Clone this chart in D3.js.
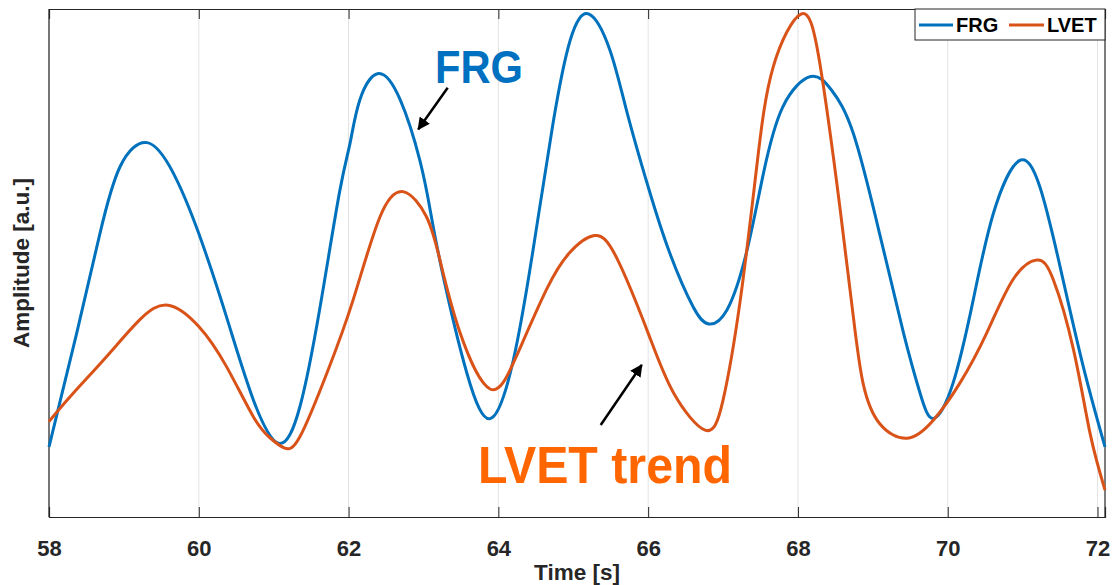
<!DOCTYPE html>
<html>
<head>
<meta charset="utf-8">
<script src="https://cdn.jsdelivr.net/npm/d3@7"></script>
<style>
  body { margin: 0; background: #fff; }
  text { font-family: "Liberation Sans", Arial, sans-serif; }
</style>
</head>
<body>
<div id="chart"></div>
<script>
// Данные (время в секундах, амплитуда в условных единицах)
const frgTime = [58.00, 58.37, 58.68, 58.95, 59.31, 59.66, 60.00, 60.37, 60.73, 61.07,
  61.35, 61.62, 61.88, 62.02, 62.15, 62.40, 62.69, 62.95, 63.09, 63.24, 63.58, 63.90,
  64.20, 64.47, 64.73, 64.96, 65.21, 65.49, 65.71, 66.00, 66.29, 66.60,
  66.81, 67.05, 67.31, 67.54, 67.80, 68.17, 68.45, 68.74, 69.09, 69.41, 69.63,
  69.81, 70.07, 70.34, 70.61, 70.95, 71.23, 71.50, 71.81, 72.10];
const frgValue = [13.8, 36.2, 55.8, 69.0, 73.7, 67.7, 55.8, 39.4, 23.0, 14.5,
  21.7, 41.4, 64.0, 73.6, 82.1, 87.3, 82.1, 70.3, 60.4, 49.0, 28.3, 19.4,
  30.9, 53.2, 77.5, 93.9, 99.0, 91.9, 80.1, 65.0, 51.9, 41.4,
  38.0, 40.7, 51.9, 67.7, 80.8, 86.7, 84.0, 75.5, 55.8, 36.2, 24.4,
  19.4, 26.3, 42.7, 59.8, 70.1, 65.0, 49.3, 29.6, 13.8];

const lvetTime = [58.00, 58.32, 58.77, 59.21, 59.59, 60.00, 60.37, 60.73, 60.95, 61.14,
  61.35, 61.71, 62.06, 62.42, 62.74, 63.04, 63.22, 63.49, 63.89,
  64.24, 64.64, 64.95, 65.28, 65.58, 66.00, 66.34, 66.76, 67.00,
  67.23, 67.45, 67.67, 68.04, 68.29, 68.56, 68.74, 68.87, 69.09,
  69.46, 69.81, 70.16, 70.52, 70.87, 71.19, 71.41, 71.68, 71.90, 72.10];
const lvetValue = [18.8, 24.3, 31.6, 38.8, 41.7, 37.5, 29.6, 19.7, 15.6, 13.6,
  15.8, 28.3, 42.7, 59.1, 64.0, 59.1, 50.6, 36.2, 25.2,
  31.6, 44.7, 52.0, 55.4, 51.0, 36.2, 24.4, 17.1, 23.0,
  42.7, 69.0, 88.6, 99.0, 89.5, 61.0, 39.4, 26.3, 18.4,
  15.5, 19.1, 26.3, 36.2, 46.7, 50.6, 46.7, 32.9, 16.5, 5.3];

const xTicks = [58, 60, 62, 64, 66, 68, 70, 72];
const seriesNames = ["FRG", "LVET"];
const seriesColors = ["#0072BD", "#D95319"];

// Размеры
const W = 1116, H = 585;
const margin = { top: 9, right: 11, bottom: 68, left: 49 },
  width = W - margin.left - margin.right,
  height = H - margin.top - margin.bottom;

const svg = d3.select("#chart").append("svg")
  .attr("width", W).attr("height", H);

const g = svg.append("g")
  .attr("transform", "translate(" + margin.left + "," + margin.top + ")");

const x = d3.scaleLinear().domain([58, 72.1]).range([0, width]);
const y = d3.scaleLinear().domain([0, 100]).range([height, 0]);

// Сетка
g.append("g")
  .selectAll("line")
  .data(xTicks)
  .enter().append("line")
  .attr("x1", (d) => x(d)).attr("x2", (d) => x(d))
  .attr("y1", 0).attr("y2", height)
  .attr("stroke", "#e3e3e3").attr("stroke-width", 1);

// Ось X
const axisColor = "#262626";
const xAxis = g.append("g")
  .attr("transform", "translate(0," + height + ")")
  .call(d3.axisBottom(x).tickValues(xTicks).tickSize(-10).tickPadding(23).tickFormat(d3.format("d")));
xAxis.select(".domain").attr("stroke", axisColor).attr("stroke-width", 1.2);
xAxis.selectAll(".tick line").attr("stroke", axisColor);
xAxis.selectAll("text")
  .attr("fill", axisColor)
  .style("font-size", "22px").style("font-weight", "bold");

// Верхние засечки
g.append("g")
  .call(d3.axisTop(x).tickValues(xTicks).tickSize(-10).tickFormat(""))
  .call((a) => a.select(".domain").attr("stroke", axisColor).attr("stroke-width", 1.2))
  .call((a) => a.selectAll(".tick line").attr("stroke", axisColor));

// Левая и правая границы
g.append("line").attr("x1", 0).attr("x2", 0).attr("y1", 0).attr("y2", height)
  .attr("stroke", axisColor).attr("stroke-width", 1.2);
g.append("line").attr("x1", width).attr("x2", width).attr("y1", 0).attr("y2", height)
  .attr("stroke", axisColor).attr("stroke-width", 1.2);

// Линии
const line = d3.line()
  .x((d) => x(d[0]))
  .y((d) => y(d[1]))
  .curve(d3.curveNatural);

const series = [
  d3.zip(frgTime, frgValue),
  d3.zip(lvetTime, lvetValue)
];

series.forEach((s, i) => {
  g.append("path")
    .datum(s)
    .attr("fill", "none")
    .attr("stroke", seriesColors[i])
    .attr("stroke-width", 3)
    .attr("stroke-linejoin", "round")
    .attr("d", line);
});

// Подписи осей
svg.append("text")
  .attr("x", margin.left + width / 2).attr("y", 580)
  .attr("text-anchor", "middle")
  .attr("fill", axisColor)
  .style("font-size", "22.5px").style("font-weight", "bold")
  .text("Time [s]");

svg.append("text")
  .attr("transform", "translate(29," + (margin.top + height / 2) + ") rotate(-90)")
  .attr("text-anchor", "middle")
  .attr("fill", axisColor)
  .style("font-size", "22.5px").style("font-weight", "bold")
  .text("Amplitude [a.u.]");

// Легенда
const legend = svg.append("g");
legend.append("rect")
  .attr("x", 915).attr("y", 9).attr("width", 190).attr("height", 31)
  .attr("fill", "#fff").attr("stroke", axisColor).attr("stroke-width", 1);
const legendItems = [
  { x0: 919, x1: 953, tx: 956 },
  { x0: 1009, x1: 1044, tx: 1047 }
];
legendItems.forEach((it, i) => {
  legend.append("line")
    .attr("x1", it.x0).attr("x2", it.x1).attr("y1", 25).attr("y2", 25)
    .attr("stroke", seriesColors[i]).attr("stroke-width", 3);
  legend.append("text")
    .attr("x", it.tx).attr("y", 32)
    .attr("fill", "#000")
    .style("font-size", "20px").style("font-weight", "bold")
    .text(seriesNames[i]);
});

// Аннотации
svg.append("defs").append("marker")
  .attr("id", "arrow")
  .attr("viewBox", "0 0 10 10")
  .attr("refX", 9).attr("refY", 5)
  .attr("markerWidth", 5).attr("markerHeight", 5)
  .attr("orient", "auto")
  .append("path").attr("d", "M0,0 L10,5 L0,10 z").attr("fill", "#000");

svg.append("line")
  .attr("x1", 447.7).attr("y1", 87.7).attr("x2", 418.3).attr("y2", 129.3)
  .attr("stroke", "#000").attr("stroke-width", 2.5)
  .attr("marker-end", "url(#arrow)");
svg.append("line")
  .attr("x1", 600.7).attr("y1", 425).attr("x2", 641.7).attr("y2", 365)
  .attr("stroke", "#000").attr("stroke-width", 2.5)
  .attr("marker-end", "url(#arrow)");

svg.append("text")
  .attr("x", 435).attr("y", 83)
  .attr("textLength", 88).attr("lengthAdjust", "spacingAndGlyphs")
  .attr("fill", "#0070C0")
  .style("font-size", "46px").style("font-weight", "bold")
  .text("FRG");

svg.append("text")
  .attr("x", 478).attr("y", 483)
  .attr("textLength", 254).attr("lengthAdjust", "spacingAndGlyphs")
  .attr("fill", "#FF6600")
  .style("font-size", "52px").style("font-weight", "bold")
  .text("LVET trend");
</script>
</body>
</html>
